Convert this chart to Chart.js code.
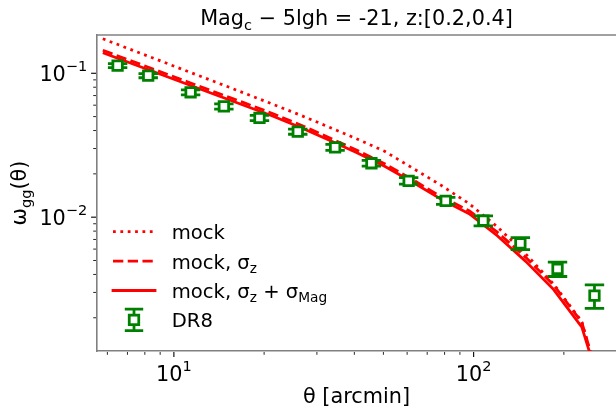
<!DOCTYPE html>
<html>
<head>
<meta charset="utf-8">
<script src="https://cdn.jsdelivr.net/npm/chart.js@4.4.1/dist/chart.umd.min.js"></script>
<style>
html, body { margin: 0; padding: 0; background: #fff; overflow: hidden; }
#wtheta { display: block; }
</style>
</head>
<body>
<canvas id="wtheta" width="616" height="408"></canvas>
<script>
// angular separation grid of the mock curves [arcmin]
var mock_theta = [5.794, 7.194, 8.933, 11.09, 13.77, 17.10, 21.23, 26.36, 32.73, 40.64,
                  50.47, 62.66, 77.80, 96.6, 119.9, 148.9, 184.9, 229.6, 285.1];
// mock, no errors
var mock_w = [0.1736, 0.1461, 0.1229, 0.1032, 0.0869, 0.0731, 0.0613, 0.0513, 0.0425, 0.0351,
              0.0287, 0.0219, 0.01668, 0.01241, 0.00858, 0.00558, 0.00343, 0.00188, 0.00035];
// mock with photo-z scatter
var mock_sz_w = [0.1445, 0.1221, 0.1033, 0.0873, 0.0738, 0.0625, 0.0528, 0.0439, 0.0359, 0.0293,
                 0.0235, 0.0182, 0.01389, 0.01109, 0.00787, 0.00528, 0.00338, 0.00186, 0.0004];
// mock with photo-z and magnitude scatter
var mock_szmag_w = [0.1388, 0.1173, 0.0992, 0.0839, 0.0709, 0.0600, 0.0507, 0.0422, 0.0345, 0.0281,
                    0.0226, 0.0175, 0.01334, 0.01057, 0.00744, 0.00495, 0.00314, 0.00172, 0.0004];

// SDSS DR8 measurement
var dr8_theta = [6.49, 8.21, 11.37, 14.68, 19.3, 25.9, 34.5, 45.6, 60.7, 80.7, 107.7, 143.2, 190.5, 253];
var dr8_w = [0.1129, 0.0962, 0.0738, 0.0588, 0.0489, 0.0393, 0.0306, 0.0237, 0.0179, 0.0130,
             0.00946, 0.00658, 0.00437, 0.00285];
var dr8_err = [0.0036, 0.0031, 0.0030, 0.0024, 0.0020, 0.0016, 0.0015, 0.0011, 0.0009, 0.00073,
               0.00075, 0.00063, 0.00050, 0.00053];

// axis ticks
var x_major = [10, 100];
var x_major_labels = [['10', '1'], ['10', '2']];
var x_minor = [6, 7, 8, 9, 20, 30, 40, 50, 60, 70, 80, 90, 200];
var y_major = [0.1, 0.01];
var y_major_labels = [['10', '\u22121'], ['10', '\u22122']];
var y_minor = [0.002, 0.003, 0.004, 0.005, 0.006, 0.007, 0.008, 0.009,
               0.02, 0.03, 0.04, 0.05, 0.06, 0.07, 0.08, 0.09];

var FONT = '"DejaVu Sans", sans-serif';
var FS = 20.8;
var LW = 2.78;
var RED = '#ff0000', GREEN = '#008000', SPINE = '#808080';
var DOTTED = [LW, 1.65 * LW], DASHED = [3.7 * LW, 1.6 * LW];

function pairs(xs, ys) {
    return xs.map(function (x, i) { return {x: x, y: ys[i]}; });
}

// draw a row of text pieces, some of them sub- or superscript
function drawRuns(ctx, runs, x, y, size, align) {
    var parts = runs.map(function (r) {
        var s = r[1] ? size * 0.7 : size;
        ctx.font = s + 'px ' + FONT;
        return {t: r[0], k: r[1], s: s, w: ctx.measureText(r[0]).width};
    });
    var total = parts.reduce(function (a, p) { return a + p.w; }, 0);
    var cx = align === 'center' ? x - total / 2 : (align === 'right' ? x - total : x);
    ctx.textAlign = 'left';
    ctx.textBaseline = 'alphabetic';
    ctx.fillStyle = '#000';
    parts.forEach(function (p) {
        ctx.font = p.s + 'px ' + FONT;
        var dy = p.k === 'sub' ? size * 0.22 : (p.k === 'sup' ? -size * 0.48 : 0);
        ctx.fillText(p.t, cx, y + dy);
        cx += p.w;
    });
}

function drawErrorBar(ctx, x, y1, y2, half) {
    ctx.beginPath();
    ctx.moveTo(x, y1); ctx.lineTo(x, y2);
    ctx.moveTo(x - half, y1); ctx.lineTo(x + half, y1);
    ctx.moveTo(x - half, y2); ctx.lineTo(x + half, y2);
    ctx.stroke();
}

function drawSquare(ctx, x, y, side) {
    ctx.fillStyle = '#fff';
    ctx.fillRect(x - side / 2, y - side / 2, side, side);
    ctx.strokeRect(x - side / 2, y - side / 2, side, side);
}

var errorBars = {
    id: 'errorBars',
    beforeDatasetDraw: function (chart, args) {
        if (args.index !== 0) return;
        var xs = chart.scales.x, ys = chart.scales.y, ctx = chart.ctx, a = chart.chartArea;
        ctx.save();
        ctx.beginPath();
        ctx.rect(a.left, a.top, a.right - a.left, a.bottom - a.top);
        ctx.clip();
        ctx.strokeStyle = GREEN;
        ctx.lineWidth = LW;
        ctx.lineCap = 'butt';
        for (var i = 0; i < dr8_theta.length; i++) {
            var px = xs.getPixelForValue(dr8_theta[i]);
            drawErrorBar(ctx, px, ys.getPixelForValue(dr8_w[i] + dr8_err[i]),
                         ys.getPixelForValue(dr8_w[i] - dr8_err[i]), 9.7);
        }
        ctx.restore();
    }
};

var decorations = {
    id: 'decorations',
    afterDraw: function (chart) {
        var ctx = chart.ctx, a = chart.chartArea, xs = chart.scales.x, ys = chart.scales.y;
        ctx.save();
        // top spine
        ctx.strokeStyle = SPINE;
        ctx.lineWidth = 1.6;
        ctx.beginPath();
        ctx.moveTo(a.left, a.top); ctx.lineTo(a.right, a.top);
        ctx.stroke();

        // tick marks
        ctx.strokeStyle = '#000';
        function xt(v, len, w) {
            var p = xs.getPixelForValue(v);
            ctx.lineWidth = w;
            ctx.beginPath(); ctx.moveTo(p, a.bottom + 1); ctx.lineTo(p, a.bottom + 1 + len); ctx.stroke();
        }
        function yt(v, len, w) {
            var p = ys.getPixelForValue(v);
            ctx.lineWidth = w;
            ctx.beginPath(); ctx.moveTo(a.left - 1, p); ctx.lineTo(a.left - 1 - len, p); ctx.stroke();
        }
        x_minor.forEach(function (v) { xt(v, 2.8, 0.85); });
        x_major.forEach(function (v) { xt(v, 4.9, 1.1); });
        y_minor.forEach(function (v) { yt(v, 2.8, 0.85); });
        y_major.forEach(function (v) { yt(v, 4.9, 1.1); });

        // tick labels
        x_major.forEach(function (v, i) {
            drawRuns(ctx, [[x_major_labels[i][0], ''], [x_major_labels[i][1], 'sup']],
                     xs.getPixelForValue(v), 381, FS, 'center');
        });
        y_major.forEach(function (v, i) {
            drawRuns(ctx, [[y_major_labels[i][0], ''], [y_major_labels[i][1], 'sup']],
                     87.3, ys.getPixelForValue(v) + 7.5, FS, 'right');
        });

        // axis titles and title
        var cx = (a.left + a.right) / 2, cy = (a.top + a.bottom) / 2;
        drawRuns(ctx, [['\u03b8 [arcmin]', '']], cx, 403, FS, 'center');
        drawRuns(ctx, [['Mag', ''], ['c', 'sub'], [' \u2212 5lgh = -21, z:[0.2,0.4]', '']], cx, 25, FS, 'center');
        ctx.save();
        ctx.translate(26, cy);
        ctx.rotate(-Math.PI / 2);
        drawRuns(ctx, [['\u03c9', ''], ['gg', 'sub'], ['(\u03b8)', '']], 0, 0, FS, 'center');
        ctx.restore();

        // legend
        var LFS = 19.6, hx0 = 113, hx1 = 155, tx = 171.7;
        var rows = [231.7, 261.1, 290.5, 319.9];
        var dashes = [DOTTED, DASHED, []];
        ctx.strokeStyle = RED;
        ctx.lineWidth = LW;
        for (var i = 0; i < 3; i++) {
            ctx.setLineDash(dashes[i]);
            ctx.lineCap = i === 2 ? 'square' : 'butt';
            ctx.beginPath(); ctx.moveTo(hx0, rows[i]); ctx.lineTo(hx1, rows[i]); ctx.stroke();
        }
        ctx.setLineDash([]);
        ctx.lineCap = 'butt';
        ctx.strokeStyle = GREEN;
        drawErrorBar(ctx, 134, rows[3] - 10.8, rows[3] + 10.8, 9.2);
        drawSquare(ctx, 134, rows[3], 9.5);
        drawRuns(ctx, [['mock', '']], tx, rows[0] + 7.4, LFS, 'left');
        drawRuns(ctx, [['mock, \u03c3', ''], ['z', 'sub']], tx, rows[1] + 7.4, LFS, 'left');
        drawRuns(ctx, [['mock, \u03c3', ''], ['z', 'sub'], [' + \u03c3', ''], ['Mag', 'sub']], tx, rows[2] + 7.4, LFS, 'left');
        drawRuns(ctx, [['DR8', '']], tx, rows[3] + 7.4, LFS, 'left');
        ctx.restore();
    }
};

var ctx = document.getElementById('wtheta').getContext('2d');
var chart = new Chart(ctx, {
    type: 'line',
    data: {
        datasets: [{
            label: 'DR8',
            data: pairs(dr8_theta, dr8_w),
            showLine: false,
            pointStyle: 'rect',
            pointRadius: 6.7,
            pointBorderWidth: LW,
            pointBorderColor: GREEN,
            pointBackgroundColor: '#fff',
            order: 0
        }, {
            label: 'mock, sz + sMag',
            data: pairs(mock_theta, mock_szmag_w),
            borderColor: RED,
            borderWidth: LW,
            borderCapStyle: 'butt',
            borderJoinStyle: 'round',
            pointRadius: 0,
            order: 1
        }, {
            label: 'mock, sz',
            data: pairs(mock_theta, mock_sz_w),
            borderColor: RED,
            borderWidth: LW,
            borderDash: DASHED,
            borderCapStyle: 'butt',
            pointRadius: 0,
            order: 2
        }, {
            label: 'mock',
            data: pairs(mock_theta, mock_w),
            borderColor: RED,
            borderWidth: LW,
            borderDash: DOTTED,
            borderCapStyle: 'butt',
            pointRadius: 0,
            order: 3
        }]
    },
    options: {
        responsive: false,
        animation: false,
        devicePixelRatio: 1,
        // no extra room for point overflow: the plot runs to the right edge
        layout: { autoPadding: false, padding: { left: 97, top: 35, right: 0, bottom: 57 } },
        plugins: {
            legend: { display: false },
            title: { display: false },
            tooltip: { enabled: false }
        },
        scales: {
            x: {
                type: 'logarithmic',
                position: 'bottom',
                min: 5.54,
                max: 298.5,
                grid: { display: false, drawTicks: false },
                ticks: { display: false },
                border: { display: true, color: SPINE, width: 1.6 }
            },
            y: {
                type: 'logarithmic',
                position: 'left',
                min: 0.001175,
                max: 0.1845,
                grid: { display: false, drawTicks: false },
                ticks: { display: false },
                border: { display: true, color: SPINE, width: 1.6 }
            }
        }
    },
    plugins: [errorBars, decorations]
});
</script>
</body>
</html>
